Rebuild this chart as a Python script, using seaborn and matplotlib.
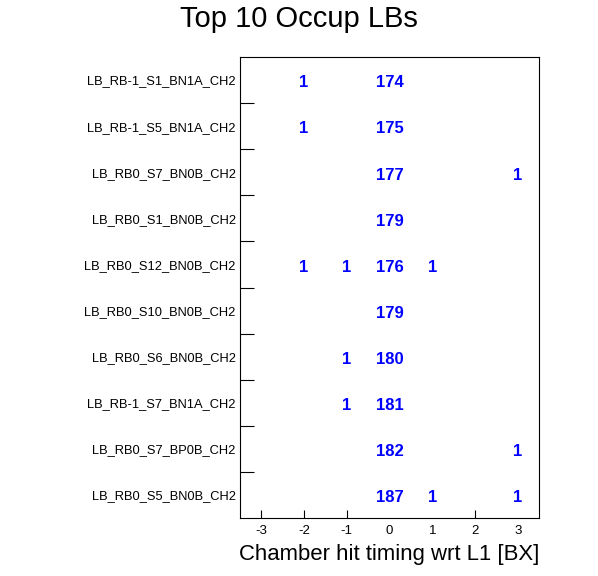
import numpy as np
import pandas as pd
import seaborn as sns
import matplotlib.pyplot as plt
from matplotlib.colors import ListedColormap

# Chambres (de haut en bas) et nombre de hits par decalage en BX
chambers = ['LB_RB-1_S1_BN1A_CH2', 'LB_RB-1_S5_BN1A_CH2', 'LB_RB0_S7_BN0B_CH2',
            'LB_RB0_S1_BN0B_CH2', 'LB_RB0_S12_BN0B_CH2', 'LB_RB0_S10_BN0B_CH2',
            'LB_RB0_S6_BN0B_CH2', 'LB_RB-1_S7_BN1A_CH2', 'LB_RB0_S7_BP0B_CH2',
            'LB_RB0_S5_BN0B_CH2']
bx = [-3, -2, -1, 0, 1, 2, 3]
hits_m3 = [0, 0, 0, 0, 0, 0, 0, 0, 0, 0]
hits_m2 = [1, 1, 0, 0, 1, 0, 0, 0, 0, 0]
hits_m1 = [0, 0, 0, 0, 1, 0, 1, 1, 0, 0]
hits_0 = [174, 175, 177, 179, 176, 179, 180, 181, 182, 187]
hits_p1 = [0, 0, 0, 0, 1, 0, 0, 0, 0, 1]
hits_p2 = [0, 0, 0, 0, 0, 0, 0, 0, 0, 0]
hits_p3 = [0, 0, 1, 0, 0, 0, 0, 0, 1, 1]

data = pd.DataFrame(
    np.array([hits_m3, hits_m2, hits_m1, hits_0, hits_p1, hits_p2, hits_p3]).T,
    index=chambers, columns=bx)

sns.set_style('ticks')
plt.rcParams['font.family'] = ['Liberation Sans', 'DejaVu Sans']
plt.rcParams['text.color'] = 'black'
plt.rcParams['axes.labelcolor'] = 'black'
plt.rcParams['xtick.color'] = 'black'
plt.rcParams['ytick.color'] = 'black'

fig = plt.figure(figsize=(5.98, 5.76), dpi=100)
ax = fig.add_axes([240 / 598, 1 - 518 / 576, 299 / 598, 461 / 576])

sns.heatmap(data, mask=(data == 0), cmap=ListedColormap(['white']), cbar=False,
            annot=True, fmt='d', ax=ax,
            annot_kws={'color': '#0000ff', 'fontweight': 'bold', 'fontsize': 12})

# ROOT place le texte un peu plus bas que le centre
for t in ax.texts:
    x, y = t.get_position()
    t.set_position((x, y + 0.06))

# Axe x : -3.5 .. 3.5 avec ticks aux entiers
ax.set_xlim(0, len(bx))
ax.set_xticks(np.arange(len(bx)) + 0.5)
ax.set_xticklabels([str(b) for b in bx], rotation=0, fontsize=9.5)
ax.tick_params(axis='x', direction='in', length=6, width=0.8, pad=5)

# Axe y : ticks aux bords des bins, labels au centre
ax.set_yticks(np.arange(1, len(chambers)))
ax.set_yticklabels([])
ax.set_yticks(np.arange(len(chambers)) + 0.5, minor=True)
ax.set_yticklabels(chambers, minor=True, fontsize=9.3)
ax.tick_params(axis='y', which='major', direction='in', length=10, width=0.8)
ax.tick_params(axis='y', which='minor', length=0, pad=3)
ax.set_ylabel('')

for s in ax.spines.values():
    s.set_visible(True)
    s.set_linewidth(0.8)
    s.set_color('black')

ax.set_xlabel('Chamber hit timing wrt L1 [BX]', loc='right', fontsize=15.9, labelpad=5)
fig.suptitle('Top 10 Occup LBs', fontsize=21, x=0.5, y=1 - 19 / 576, va='center')

fig.savefig('out.png', dpi=100)
